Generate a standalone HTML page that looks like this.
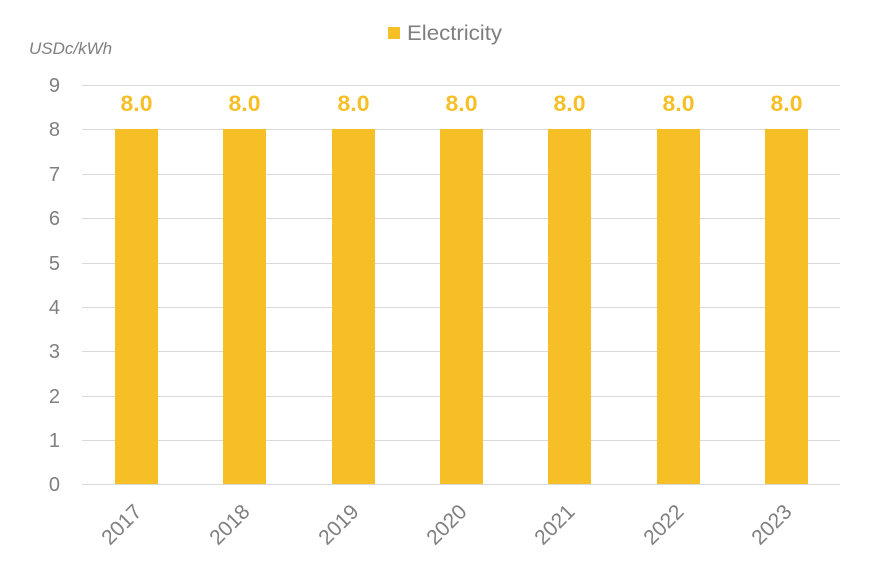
<!DOCTYPE html>
<html><head><meta charset="utf-8"><style>
body{margin:0;background:#fff}
svg text{font-family:"Liberation Sans",sans-serif}
</style></head><body>
<svg width="881" height="568" xmlns="http://www.w3.org/2000/svg">
<rect width="881" height="568" fill="#fff"/>
<rect x="388" y="27" width="12" height="12" fill="#F7BF26"/>
<text x="407" y="40" font-size="21" fill="#7f7f7f" textLength="95" lengthAdjust="spacingAndGlyphs">Electricity</text>
<text x="29" y="54" font-size="17" font-style="italic" fill="#7f7f7f">USDc/kWh</text>
<g stroke="#d9d9d9" stroke-width="1">
<line x1="82" x2="840" y1="85.5" y2="85.5"/><line x1="82" x2="840" y1="129.5" y2="129.5"/>
<line x1="82" x2="840" y1="174.5" y2="174.5"/><line x1="82" x2="840" y1="218.5" y2="218.5"/>
<line x1="82" x2="840" y1="263.5" y2="263.5"/><line x1="82" x2="840" y1="307.5" y2="307.5"/>
<line x1="82" x2="840" y1="351.5" y2="351.5"/><line x1="82" x2="840" y1="396.5" y2="396.5"/>
<line x1="82" x2="840" y1="440.5" y2="440.5"/><line x1="82" x2="840" y1="484.5" y2="484.5"/>
</g>
<g font-size="20" fill="#7f7f7f" text-anchor="end">
<text x="60" y="92">9</text><text x="60" y="136">8</text><text x="60" y="181">7</text>
<text x="60" y="225">6</text><text x="60" y="270">5</text><text x="60" y="314">4</text>
<text x="60" y="358">3</text><text x="60" y="403">2</text><text x="60" y="447">1</text>
<text x="60" y="491">0</text>
</g>
<g fill="#F7BF26">
<rect x="115" y="129" width="43" height="355"/><rect x="223" y="129" width="43" height="355"/>
<rect x="332" y="129" width="43" height="355"/><rect x="440" y="129" width="43" height="355"/>
<rect x="548" y="129" width="43" height="355"/><rect x="657" y="129" width="43" height="355"/>
<rect x="765" y="129" width="43" height="355"/>
</g>
<g font-size="22" font-weight="bold" fill="#F7BF26" text-anchor="middle">
<text x="136.5" y="111" textLength="32" lengthAdjust="spacingAndGlyphs">8.0</text>
<text x="244.5" y="111" textLength="32" lengthAdjust="spacingAndGlyphs">8.0</text>
<text x="353.5" y="111" textLength="32" lengthAdjust="spacingAndGlyphs">8.0</text>
<text x="461.5" y="111" textLength="32" lengthAdjust="spacingAndGlyphs">8.0</text>
<text x="569.5" y="111" textLength="32" lengthAdjust="spacingAndGlyphs">8.0</text>
<text x="678.5" y="111" textLength="32" lengthAdjust="spacingAndGlyphs">8.0</text>
<text x="786.5" y="111" textLength="32" lengthAdjust="spacingAndGlyphs">8.0</text>
</g>
<g font-size="21" fill="#7f7f7f" text-anchor="end">
<text transform="translate(143,513) rotate(-45)">2017</text>
<text transform="translate(251,513) rotate(-45)">2018</text>
<text transform="translate(360,513) rotate(-45)">2019</text>
<text transform="translate(468,513) rotate(-45)">2020</text>
<text transform="translate(576,513) rotate(-45)">2021</text>
<text transform="translate(685,513) rotate(-45)">2022</text>
<text transform="translate(793,513) rotate(-45)">2023</text>
</g>
</svg>
</body></html>
